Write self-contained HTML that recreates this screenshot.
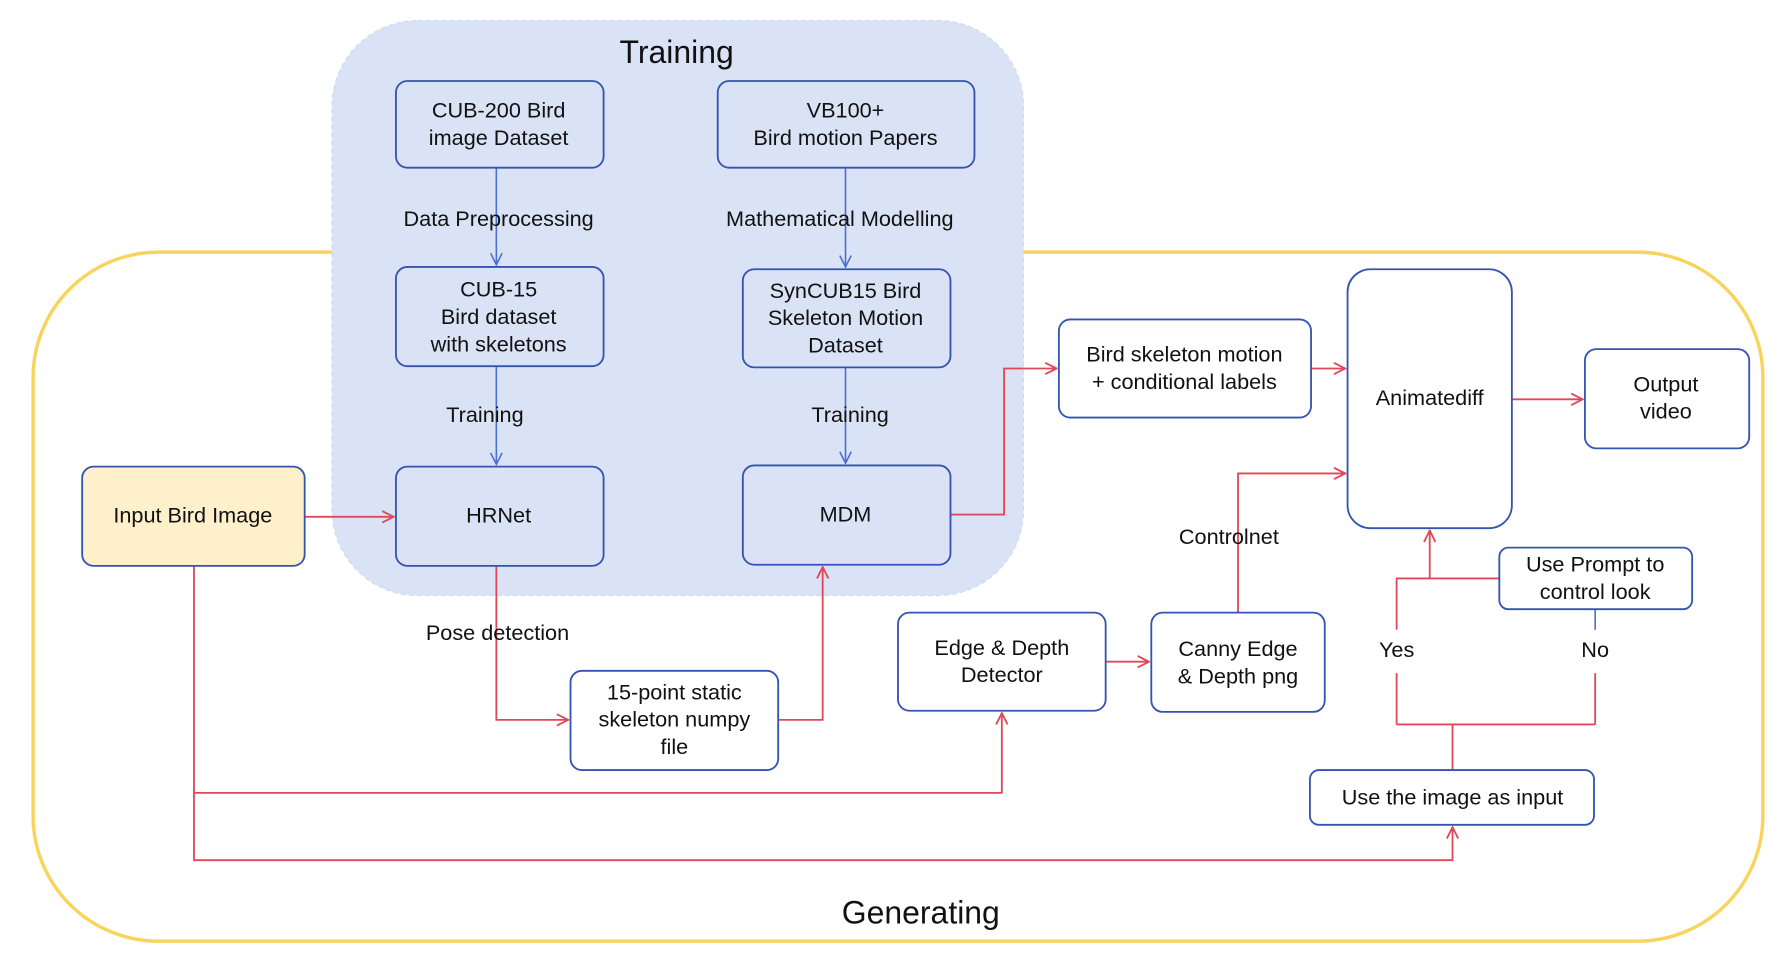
<!DOCTYPE html>
<html><head><meta charset="utf-8"><style>
html,body{margin:0;padding:0;background:#fff;}
svg{display:block}
text{font-family:"Liberation Sans",Arial,sans-serif;font-size:19px;fill:#111;text-anchor:middle;dominant-baseline:middle}
.b{fill:#fff;stroke:#3553b0;stroke-width:1.6}
.t{fill:none;stroke:#3553b0;stroke-width:1.6}
.r{fill:none;stroke:#e0485a;stroke-width:1.6}
.bl{fill:none;stroke:#4a6fd0;stroke-width:1.4}
</style></head><body>
<svg width="1788" height="980" viewBox="0 0 1567 859" preserveAspectRatio="none" xmlns="http://www.w3.org/2000/svg">
<defs>
<marker id="ar" viewBox="0 0 12 12" refX="11" refY="6" markerWidth="12" markerHeight="12" markerUnits="userSpaceOnUse" orient="auto"><path d="M1,1 L11,6 L1,11" fill="none" stroke="#e0485a" stroke-width="1.6"/></marker>
<marker id="ab" viewBox="0 0 12 12" refX="11" refY="6" markerWidth="12" markerHeight="12" markerUnits="userSpaceOnUse" orient="auto"><path d="M1,1 L11,6 L1,11" fill="none" stroke="#4a6fd0" stroke-width="1.4"/></marker>
</defs>
<rect x="29" y="221" width="1516" height="604" rx="110" fill="none" stroke="#f9d45c" stroke-width="3"/>
<rect x="291" y="18" width="606" height="504" rx="75" fill="#dae2f5" stroke="#cfd8ef" stroke-dasharray="4 3"/>
<text x="593" y="48" style="font-size:28px">Training</text>
<text x="807" y="802" style="font-size:28px">Generating</text>

<path class="bl" d="M435,147 V232" marker-end="url(#ab)"/>
<path class="bl" d="M741,147 V234" marker-end="url(#ab)"/>
<path class="bl" d="M435,321 V407" marker-end="url(#ab)"/>
<path class="bl" d="M741,322 V406" marker-end="url(#ab)"/>
<path class="bl" d="M1398,534 V552"/>

<path class="r" d="M267,453 H345" marker-end="url(#ar)"/>
<path class="r" d="M435,496 V631 H498" marker-end="url(#ar)"/>
<path class="r" d="M682,631 H721 V497" marker-end="url(#ar)"/>
<path class="r" d="M833,451 H880 V323 H926" marker-end="url(#ar)"/>
<path class="r" d="M1149,323 H1179" marker-end="url(#ar)"/>
<path class="r" d="M1325,350 H1387" marker-end="url(#ar)"/>
<path class="r" d="M170,496 V754 H1273 V725" marker-end="url(#ar)"/>
<path class="r" d="M170,695 H878 V625" marker-end="url(#ar)"/>
<path class="r" d="M969,580 H1007" marker-end="url(#ar)"/>
<path class="r" d="M1085,537 V415 H1179" marker-end="url(#ar)"/>
<path class="r" d="M1273,675 V635 M1224,635 H1398 M1224,635 V590 M1398,635 V590"/>
<path class="r" d="M1224,552 V507 H1314"/>
<path class="r" d="M1253,507 V465" marker-end="url(#ar)"/>

<rect class="t" x="347" y="71" width="182" height="76" rx="10"/>
<text x="437" y="98">CUB-200 Bird</text><text x="437" y="122">image Dataset</text>
<rect class="t" x="629" y="71" width="225" height="76" rx="10"/>
<text x="741" y="98">VB100+</text><text x="741" y="122">Bird motion Papers</text>
<rect class="t" x="347" y="234" width="182" height="87" rx="10"/>
<text x="437" y="255">CUB-15</text><text x="437" y="279">Bird dataset</text><text x="437" y="303">with skeletons</text>
<rect class="t" x="651" y="236" width="182" height="86" rx="10"/>
<text x="741" y="256">SynCUB15 Bird</text><text x="741" y="280">Skeleton Motion</text><text x="741" y="304">Dataset</text>
<rect class="t" x="347" y="409" width="182" height="87" rx="10"/>
<text x="437" y="453">HRNet</text>
<rect class="t" x="651" y="408" width="182" height="87" rx="10"/>
<text x="741" y="452">MDM</text>
<rect x="72" y="409" width="195" height="87" rx="10" fill="#fdf0cb" stroke="#3553b0" stroke-width="1.6"/>
<text x="169" y="453">Input Bird Image</text>
<rect class="b" x="928" y="280" width="221" height="86" rx="10"/>
<text x="1038" y="312">Bird skeleton motion</text><text x="1038" y="336">+ conditional labels</text>
<rect class="b" x="1181" y="236" width="144" height="227" rx="20"/>
<text x="1253" y="350">Animatediff</text>
<rect class="b" x="1389" y="306" width="144" height="87" rx="10"/>
<text x="1460" y="338">Output</text><text x="1460" y="362">video</text>
<rect class="b" x="500" y="588" width="182" height="87" rx="10"/>
<text x="591" y="608">15-point static</text><text x="591" y="632">skeleton numpy</text><text x="591" y="656">file</text>
<rect class="b" x="787" y="537" width="182" height="86" rx="10"/>
<text x="878" y="569">Edge &amp; Depth</text><text x="878" y="593">Detector</text>
<rect class="b" x="1009" y="537" width="152" height="87" rx="10"/>
<text x="1085" y="570">Canny Edge</text><text x="1085" y="594">&amp; Depth png</text>
<rect class="b" x="1314" y="480" width="169" height="54" rx="8"/>
<text x="1398" y="496">Use Prompt to</text><text x="1398" y="520">control look</text>
<rect class="b" x="1148" y="675" width="249" height="48" rx="8"/>
<text x="1273" y="700">Use the image as input</text>

<text x="437" y="193">Data Preprocessing</text>
<text x="736" y="193">Mathematical Modelling</text>
<text x="425" y="365">Training</text>
<text x="745" y="365">Training</text>
<text x="436" y="556">Pose detection</text>
<text x="1077" y="472">Controlnet</text>
<text x="1224" y="571">Yes</text>
<text x="1398" y="571">No</text>
</svg>
</body></html>
